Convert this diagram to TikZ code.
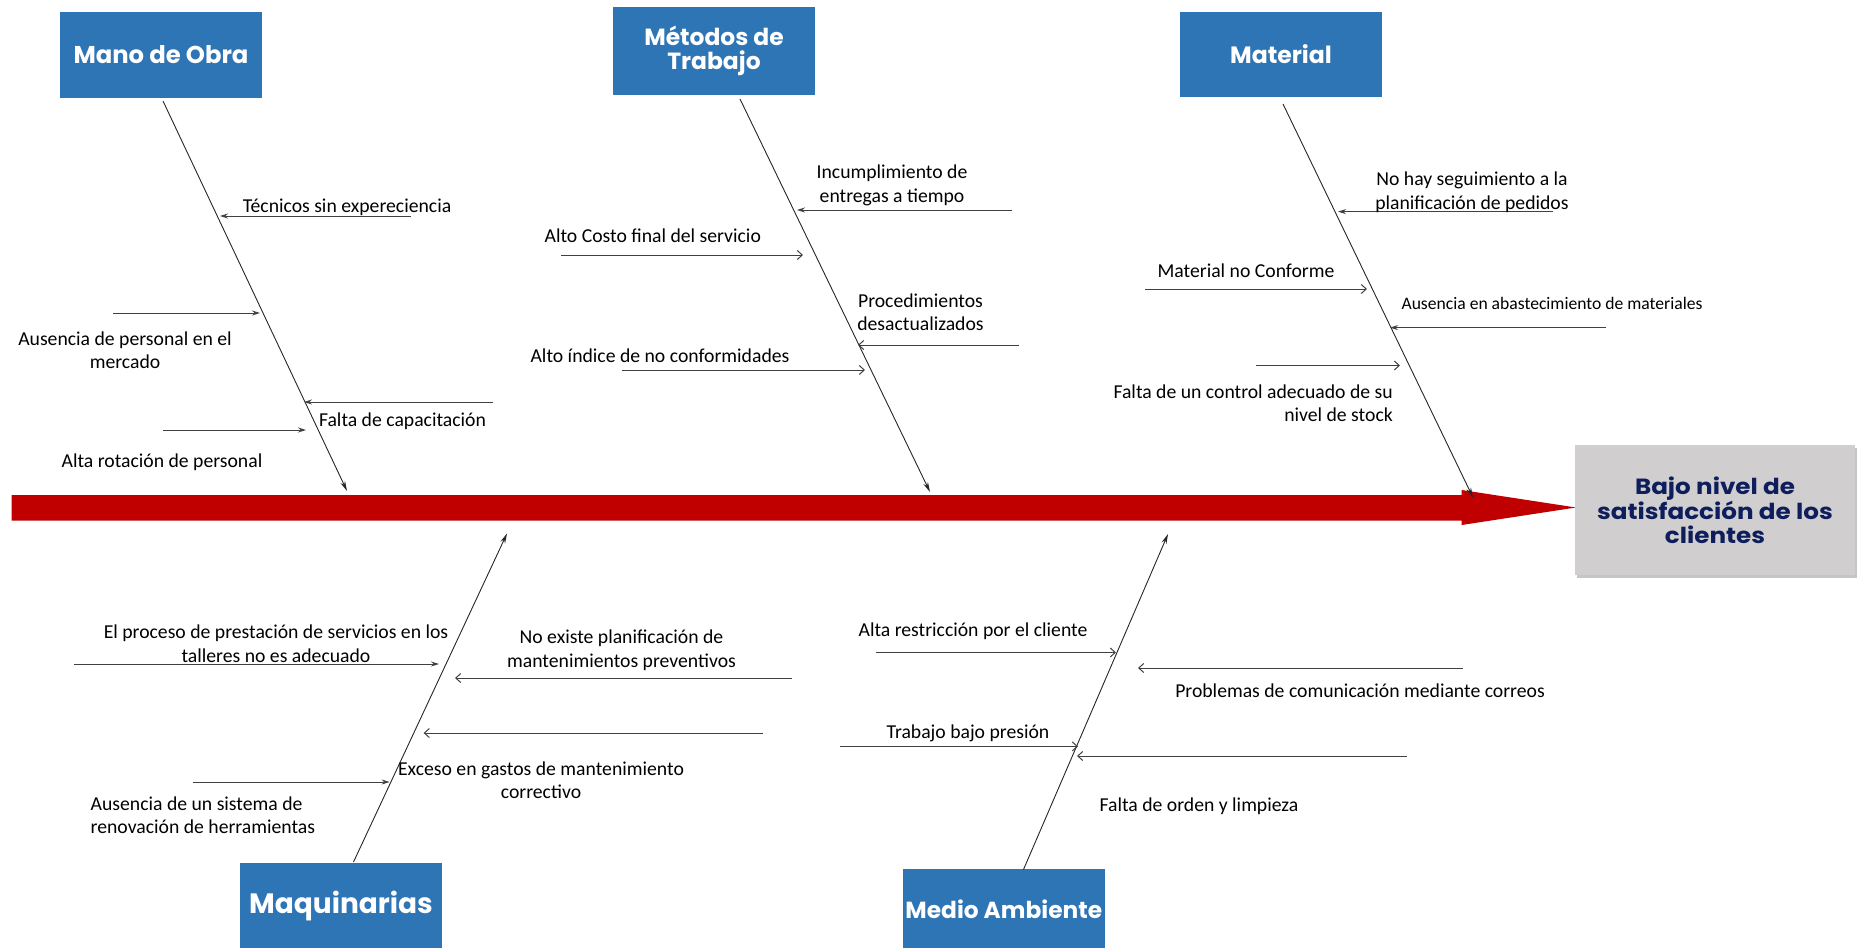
\documentclass[tikz,border=0pt]{standalone}
\usepackage{fontspec}
\setmainfont{Carlito}
\newfontfamily\headfont{Poppins}
\newfontfamily\headfontwide{Poppins}[FakeStretch=1.12]
\usetikzlibrary{arrows.meta,shadows}
\definecolor{catblue}{RGB}{46,117,182}
\definecolor{spinered}{RGB}{192,0,0}
\definecolor{effectgray}{RGB}{208,206,206}
\definecolor{effectnavy}{RGB}{14,30,92}
\tikzset{
  catbox/.style={fill=catblue, text=white, inner sep=0pt, align=center,
    minimum width=202pt,
    font=\headfont\bfseries\fontsize{23.6}{23.5}\selectfont},
  effectbox/.style={fill=effectgray, text=effectnavy, inner sep=0pt, align=center,
    minimum width=280pt, minimum height=130pt,
    drop shadow={shadow xshift=1.5pt, shadow yshift=-2.5pt, opacity=0.45},
    font=\headfontwide\bfseries\fontsize{22}{23.6}\selectfont},
  lab/.style={inner sep=0pt, align=center, font=\fontsize{19.7}{23.5}\selectfont},
  bone/.style={draw=black!85, line width=0.9pt, -{Stealth[length=10pt,width=5pt]}},
  causeF/.style={draw=black!75, line width=1pt, -{Stealth[length=8pt,width=5pt]}},
  causeO/.style={draw=black!75, line width=1pt, -{Straight Barb[length=5pt,width=9pt]}},
}
\begin{document}
\begin{tikzpicture}[x=1pt, y=-1pt]
\useasboundingbox (0,0) rectangle (1858,948);

% main spine (red arrow towards the effect)
\fill[spinered] (11.5,495) -- (1461.7,495) -- (1461.7,490) -- (1576,507.5)
  -- (1461.7,525) -- (1461.7,520.5) -- (11.5,520.5) -- cycle;

% effect
\node[effectbox] (effect) at (1715,510) {Bajo nivel de\\satisfacción de los\\clientes};

% categories
\node[catbox, minimum height=86pt, font=\headfont\bfseries\fontsize{24.3}{24}\selectfont] (mano) at (161,55) {Mano de Obra};
\node[catbox, minimum height=88pt, font=\headfont\bfseries\fontsize{23.4}{23.5}\selectfont] (metodos) at (714,51) {Métodos de\\Trabajo};
\node[catbox, minimum height=85pt] (material) at (1281,54.5) {Material};
\node[catbox, minimum height=85pt, font=\headfont\bfseries\fontsize{28}{28}\selectfont] (maquinarias) at (341,905.5) {Maquinarias};
\node[catbox, minimum height=79pt, minimum width=201.6pt, font=\headfont\bfseries\fontsize{23.3}{24}\selectfont] (medio) at (1003.8,908.75) {Medio Ambiente};

% bone end points
\coordinate (manoT) at (163,101);     \coordinate (manoB) at (347,491);
\coordinate (metT) at (740,99);       \coordinate (metB) at (930,492);
\coordinate (matT) at (1283,104);     \coordinate (matB) at (1473,497.5);
\coordinate (maqB) at (353.5,862);    \coordinate (maqT) at (507,533.5);
\coordinate (medB) at (1023.5,869.5); \coordinate (medT) at (1168,534);

\draw[bone] (manoT) -- (manoB);
\draw[bone] (metT) -- (metB);
\draw[bone] (matT) -- (matB);
\draw[bone] (maqB) -- (maqT);
\draw[bone] (medB) -- (medT);

% ---- Mano de Obra causes
\coordinate (a1s) at (411,216);   \coordinate (a1e) at (220,216);
\coordinate (a2s) at (113,313);   \coordinate (a2e) at (260,313);
\coordinate (a3s) at (493,402);   \coordinate (a3e) at (304,402);
\coordinate (a4s) at (163,430);   \coordinate (a4e) at (306,430);
\draw[causeF] (a1s) -- (a1e);
\draw[causeF] (a2s) -- (a2e);
\draw[causeF] (a3s) -- (a3e);
\draw[causeF] (a4s) -- (a4e);
\node[lab] (t1) at (347,207) {Técnicos sin expereciencia};
\node[lab] (t2) at (125,350) {Ausencia de personal en el\\mercado};
\node[lab] (t3) at (402.5,421) {Falta de capacitación};
\node[lab] (t4) at (162,462) {Alta rotación de personal};

% ---- Métodos de Trabajo causes
\coordinate (b1s) at (1012,210);  \coordinate (b1e) at (797,210);
\coordinate (b2s) at (561,255);   \coordinate (b2e) at (803,255);
\coordinate (b3s) at (1019,345);  \coordinate (b3e) at (858,345);
\coordinate (b4s) at (622,370);   \coordinate (b4e) at (865,370);
\draw[causeF] (b1s) -- (b1e);
\draw[causeO] (b2s) -- (b2e);
\draw[causeO] (b3s) -- (b3e);
\draw[causeO] (b4s) -- (b4e);
\node[lab] (u1) at (892,185.5) {Incumplimiento de\\entregas a tiempo};
\node[lab] (u2) at (652.8,236) {Alto Costo final del servicio};
\node[lab] (u3) at (920.5,312) {Procedimientos\\desactualizados};
\node[lab] (u4) at (660,356) {Alto índice de no conformidades};

% ---- Material causes
\coordinate (c1s) at (1553,211.6); \coordinate (c1e) at (1338,211.6);
\coordinate (c2s) at (1145,289);   \coordinate (c2e) at (1367,289);
\coordinate (c3s) at (1606,327.6); \coordinate (c3e) at (1390,327.6);
\coordinate (c4s) at (1256,365.5); \coordinate (c4e) at (1400,365.5);
\draw[causeF] (c1s) -- (c1e);
\draw[causeO] (c2s) -- (c2e);
\draw[causeF] (c3s) -- (c3e);
\draw[causeO] (c4s) -- (c4e);
\node[lab] (v1) at (1472,192) {No hay seguimiento a la\\planificación de pedidos};
\node[lab] (v2) at (1246,270.6) {Material no Conforme};
\node[lab, font=\fontsize{17.6}{21}\selectfont] (v3) at (1552,303) {Ausencia en abastecimiento de materiales};
\node[lab, anchor=east, align=right] (v4) at (1393,403) {Falta de un control adecuado de su\\nivel de stock};

% ---- Maquinarias causes
\coordinate (d1s) at (74,664);     \coordinate (d1e) at (439,664);
\coordinate (d2s) at (792,678);    \coordinate (d2e) at (455,678);
\coordinate (d3s) at (762.5,733);  \coordinate (d3e) at (423.6,733);
\coordinate (d4s) at (192.5,782);  \coordinate (d4e) at (389.6,782);
\draw[causeF] (d1s) -- (d1e);
\draw[causeO] (d2s) -- (d2e);
\draw[causeO] (d3s) -- (d3e);
\draw[causeF] (d4s) -- (d4e);
\node[lab] (w1) at (276,643.5) {El proceso de prestación de servicios en los\\talleres no es adecuado};
\node[lab] (w2) at (621.5,650) {No existe planificación de\\mantenimientos preventivos};
\node[lab] (w3) at (541,780) {Exceso en gastos de mantenimiento\\correctivo};
\node[lab, anchor=west, align=left] (w4) at (90.5,815) {Ausencia de un sistema de\\renovación de herramientas};

% ---- Medio Ambiente causes
\coordinate (e1s) at (875.5,652.5); \coordinate (e1e) at (1116,652.5);
\coordinate (e2s) at (1463,668);    \coordinate (e2e) at (1138,668);
\coordinate (e3s) at (840,746.4);   \coordinate (e3e) at (1078,746.4);
\coordinate (e4s) at (1407,756);    \coordinate (e4e) at (1077,756);
\draw[causeO] (e1s) -- (e1e);
\draw[causeO] (e2s) -- (e2e);
\draw[causeO] (e3s) -- (e3e);
\draw[causeO] (e4s) -- (e4e);
\node[lab] (x1) at (973,631.5) {Alta restricción por el cliente};
\node[lab] (x2) at (1360,690.5) {Problemas de comunicación mediante correos};
\node[lab] (x3) at (968,733) {Trabajo bajo presión};
\node[lab] (x4) at (1199,806.5) {Falta de orden y limpieza};
\end{tikzpicture}
\end{document}
